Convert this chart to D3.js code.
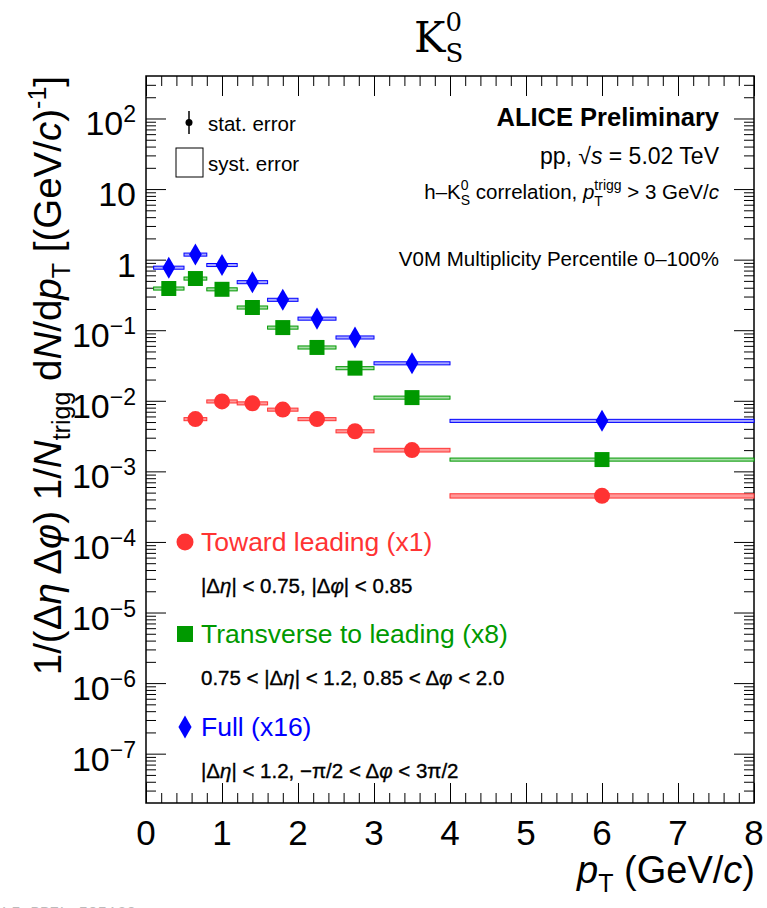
<!DOCTYPE html>
<html>
<head>
<meta charset="utf-8">
<script src="https://cdn.jsdelivr.net/npm/d3@7/dist/d3.min.js"></script>
<style>
body { margin: 0; background: #fff; }
text { font-family: "Liberation Sans", Arial, Helvetica, sans-serif; fill: #000; }
</style>
</head>
<body>
<div id="chart"></div>
<script>
// Width and height
var width  = 767;
var height = 908;

// plot frame
var frameL = 146,
    frameR = 754,
    frameT = 76,
    frameB = 803;

// pT bins (GeV/c)
var binLo    = [0.1, 0.5, 0.8, 1.2, 1.6, 2.0, 2.5, 3.0, 4.0];
var binHi    = [0.5, 0.8, 1.2, 1.6, 2.0, 2.5, 3.0, 4.0, 8.0];
var ptCenter = [0.3, 0.65, 1.0, 1.4, 1.8, 2.25, 2.75, 3.5, 6.0];

// yields, already scaled (x1, x8, x16)
var towardVals = [null, 0.0055, 0.0098, 0.0092, 0.0075, 0.0055, 0.0037, 0.0020, 0.00045];
var transVals  = [0.39, 0.54, 0.38, 0.21, 0.109, 0.057, 0.029, 0.0111, 0.00147];
var fullVals   = [0.77, 1.18, 0.84, 0.48, 0.27, 0.146, 0.079, 0.034, 0.0052];

// relative systematic errors
var towardSys = [null, 0.05, 0.05, 0.05, 0.05, 0.05, 0.05, 0.06, 0.07];
var transSys  = [0.05, 0.05, 0.05, 0.05, 0.05, 0.05, 0.05, 0.05, 0.05];
var fullSys   = [0.05, 0.05, 0.05, 0.05, 0.05, 0.05, 0.05, 0.05, 0.05];

var seriesNames = ["Toward leading (x1)", "Transverse to leading (x8)", "Full (x16)"];

// ticks
var xTickValues = [0, 1, 2, 3, 4, 5, 6, 7, 8];
var yTickValues = [1e2, 1e1, 1, 1e-1, 1e-2, 1e-3, 1e-4, 1e-5, 1e-6, 1e-7];
var yTickText   = [["10", "2"], ["10", ""], ["1", ""], ["10", "\u22121"], ["10", "\u22122"],
                   ["10", "\u22123"], ["10", "\u22124"], ["10", "\u22125"], ["10", "\u22126"], ["10", "\u22127"]];

var colors     = ["#ff3333", "#009900", "#0000ff"];
var fillColors = ["#ff9999", "#a8dca8", "#a8a8ff"];
var symbols    = [d3.symbolCircle, d3.symbolSquare, d3.symbolDiamond];
var symSizes   = [201, 225, 140];

// scales
var x = d3.scaleLinear().domain([0, 8]).range([frameL, frameR]);
var y = d3.scaleLog().domain([2e-8, 400]).range([frameB, frameT]);

var svg = d3.select("#chart")
    .append("svg")
    .attr("width", width)
    .attr("height", height);

// helper for text with sub/superscripts
function rich(sel, parts) {
    parts.forEach(function(p) {
        if (typeof p === "string") p = {t: p};
        var ts = sel.append("tspan").text(p.t);
        if (p.i) ts.style("font-style", "italic");
        if (p.s) ts.style("font-size", p.s + "px");
        if (p.dy) ts.attr("dy", p.dy);
        if (p.dx) ts.attr("dx", p.dx);
    });
    return sel;
}

// minor ticks
var xMinor = d3.range(0, 8.001, 0.2).filter(function(v){ return Math.abs(v - Math.round(v)) > 0.01; });
var yMinor = [];
for (var k = -8; k <= 2; k++) {
    for (var m = 2; m <= 9; m++) {
        var v = m * Math.pow(10, k);
        if (v > 2e-8 && v < 400) yMinor.push(v);
    }
}

function styleAxis(g) {
    g.select(".domain").remove();
    g.selectAll("line").attr("stroke", "#000").attr("stroke-width", 1);
    g.selectAll("text").remove();
}

// axes: majors + minors, ticks pointing inward on all four sides
svg.append("g").attr("transform", "translate(" + frameL + ",0)")
    .call(d3.axisLeft(y).tickValues(yTickValues).tickSize(-20)).call(styleAxis);
svg.append("g").attr("transform", "translate(" + frameL + ",0)")
    .call(d3.axisLeft(y).tickValues(yMinor).tickSize(-10)).call(styleAxis);
svg.append("g").attr("transform", "translate(" + frameR + ",0)")
    .call(d3.axisRight(y).tickValues(yTickValues).tickSize(-20)).call(styleAxis);
svg.append("g").attr("transform", "translate(" + frameR + ",0)")
    .call(d3.axisRight(y).tickValues(yMinor).tickSize(-10)).call(styleAxis);
svg.append("g").attr("transform", "translate(0," + frameB + ")")
    .call(d3.axisBottom(x).tickValues(xTickValues).tickSize(-20)).call(styleAxis);
svg.append("g").attr("transform", "translate(0," + frameB + ")")
    .call(d3.axisBottom(x).tickValues(xMinor).tickSize(-10)).call(styleAxis);
svg.append("g").attr("transform", "translate(0," + frameT + ")")
    .call(d3.axisTop(x).tickValues(xTickValues).tickSize(-20)).call(styleAxis);
svg.append("g").attr("transform", "translate(0," + frameT + ")")
    .call(d3.axisTop(x).tickValues(xMinor).tickSize(-10)).call(styleAxis);

// frame
svg.append("rect")
    .attr("x", frameL)
    .attr("y", frameT)
    .attr("width", frameR - frameL)
    .attr("height", frameB - frameT)
    .style("fill", "none")
    .style("stroke", "#000")
    .style("stroke-width", 1.5);

// x tick labels
svg.selectAll(".xlab")
    .data(xTickValues)
    .enter()
    .append("text")
    .attr("class", "xlab")
    .attr("x", function(d){ return x(d); })
    .attr("y", 845)
    .attr("text-anchor", "middle")
    .style("font-size", "35px")
    .text(function(d){ return d; });

// y tick labels
svg.selectAll(".ylab")
    .data(yTickValues)
    .enter()
    .append("text")
    .attr("class", "ylab")
    .attr("x", 136)
    .attr("y", function(d){ return y(d) + 17; })
    .attr("text-anchor", "end")
    .style("font-size", "34px")
    .each(function(d, i) {
        var t = yTickText[i];
        var sel = d3.select(this);
        sel.append("tspan").text(t[0]);
        if (t[1] !== "") {
            sel.append("tspan")
                .attr("dy", -13)
                .style("font-size", "23px")
                .text(t[1]);
        }
    });

// axis titles
rich(svg.append("text")
        .attr("x", frameR + 1)
        .attr("y", 883)
        .attr("text-anchor", "end")
        .style("font-size", "38px"),
    [{t: "p", i: true}, {t: "T", s: 25, dy: 9}, {t: " (GeV/", dy: -9}, {t: "c", i: true}, ")"]);

rich(svg.append("text")
        .attr("transform", "translate(61," + frameT + ") rotate(-90)")
        .attr("text-anchor", "end")
        .style("font-size", "38.5px"),
    ["1/(\u0394", {t: "\u03b7", i: true}, " \u0394", {t: "\u03c6", i: true}, ") 1/",
     {t: "N", i: true}, {t: "trigg", s: 25, dy: 9}, {t: " d", dy: -9}, {t: "N", i: true}, "/d",
     {t: "p", i: true}, {t: "T", s: 25, dy: 9}, {t: " [(GeV/", dy: -9}, {t: "c", i: true}, ")",
     {t: "-1", s: 25, dy: -15}, {t: "]", dy: 15}]);

// title K0S
rich(svg.append("text")
        .attr("x", 414)
        .attr("y", 52)
        .style("font-family", "'DejaVu Serif', serif")
        .style("font-size", "42px"),
    ["K", {t: "0", s: 26, dy: -21}, {t: "S", s: 26, dx: -16.5, dy: 31}]);

// systematic boxes + markers
var allVals = [towardVals, transVals, fullVals];
var allSys  = [towardSys, transSys, fullSys];

allVals.forEach(function(vals, s) {
    var pts = vals.map(function(v, i) {
        return {v: v, sys: allSys[s][i], lo: binLo[i], hi: binHi[i], pt: ptCenter[i]};
    }).filter(function(d){ return d.v !== null; });

    var g = svg.append("g").attr("class", "series" + s);

    g.selectAll("rect")
        .data(pts)
        .enter()
        .append("rect")
        .attr("x", function(d){ return x(d.lo); })
        .attr("width", function(d){ return x(d.hi) - x(d.lo); })
        .attr("y", function(d){ return y(d.v * (1 + d.sys)); })
        .attr("height", function(d){ return y(d.v * (1 - d.sys)) - y(d.v * (1 + d.sys)); })
        .style("fill", fillColors[s])
        .style("stroke", colors[s])
        .style("stroke-width", 1);

    g.selectAll("path")
        .data(pts)
        .enter()
        .append("path")
        .attr("transform", function(d){ return "translate(" + x(d.pt) + "," + y(d.v) + ")"; })
        .attr("d", d3.symbol().type(symbols[s]).size(symSizes[s]))
        .style("fill", colors[s]);
});

// top-left legend (stat / syst)
svg.append("line")
    .attr("x1", 189).attr("x2", 189)
    .attr("y1", 111).attr("y2", 134)
    .style("stroke", "#000").style("stroke-width", 1.5);
svg.append("circle")
    .attr("cx", 189).attr("cy", 122.5).attr("r", 3.5)
    .style("fill", "#000");
svg.append("text")
    .attr("x", 208).attr("y", 131)
    .style("font-size", "20.5px")
    .text("stat. error");
svg.append("rect")
    .attr("x", 176).attr("y", 148)
    .attr("width", 27).attr("height", 29)
    .style("fill", "none").style("stroke", "#000").style("stroke-width", 1);
svg.append("text")
    .attr("x", 208).attr("y", 171)
    .style("font-size", "20.5px")
    .text("syst. error");

// top-right labels
svg.append("text")
    .attr("x", 719).attr("y", 126)
    .attr("text-anchor", "end")
    .style("font-size", "25.5px")
    .style("font-weight", "bold")
    .text("ALICE Preliminary");

rich(svg.append("text")
        .attr("x", 719).attr("y", 164)
        .attr("text-anchor", "end")
        .style("font-size", "23px"),
    ["pp, \u221a", {t: "s", i: true}, " = 5.02 TeV"]);

rich(svg.append("text")
        .attr("x", 719).attr("y", 199)
        .attr("text-anchor", "end")
        .style("font-size", "20.5px"),
    ["h\u2013K", {t: "0", s: 14, dy: -9}, {t: "S", s: 14, dx: -7.8, dy: 15},
     {t: " correlation, ", dy: -6}, {t: "p", i: true}, {t: "T", s: 14, dy: 7},
     {t: "trigg", s: 14, dx: -8.6, dy: -16}, {t: " > 3 GeV/", dy: 9}, {t: "c", i: true}]);

svg.append("text")
    .attr("x", 719).attr("y", 266)
    .attr("text-anchor", "end")
    .style("font-size", "20.5px")
    .text("V0M Multiplicity Percentile 0\u2013100%");

// series legend
var legendY   = [542, 634, 727];
var legendSym = [227, 256, 150];
var cutParts = [
    ["|\u0394", {t: "\u03b7", i: true}, "| < 0.75, |\u0394", {t: "\u03c6", i: true}, "| < 0.85"],
    ["0.75 < |\u0394", {t: "\u03b7", i: true}, "| < 1.2, 0.85 < \u0394", {t: "\u03c6", i: true}, " < 2.0"],
    ["|\u0394", {t: "\u03b7", i: true}, "| < 1.2, \u2212\u03c0/2 < \u0394", {t: "\u03c6", i: true}, " < 3\u03c0/2"]
];

seriesNames.forEach(function(name, s) {
    svg.append("path")
        .attr("transform", "translate(185," + legendY[s] + ")")
        .attr("d", d3.symbol().type(symbols[s]).size(legendSym[s]))
        .style("fill", colors[s]);
    svg.append("text")
        .attr("x", 201)
        .attr("y", legendY[s] + 9)
        .style("font-size", "26.5px")
        .style("fill", colors[s])
        .text(name);
    rich(svg.append("text")
            .attr("x", 201)
            .attr("y", legendY[s] + 51)
            .style("font-size", "20.5px")
            .style("stroke", "#000")
            .style("stroke-width", 0.35),
        cutParts[s]);
});

// preliminary figure id, cut at bottom edge
svg.append("text")
    .attr("x", -8).attr("y", 918)
    .style("font-family", "'Liberation Mono', monospace")
    .style("font-size", "16px")
    .style("fill", "#bbb")
    .text("ALI-PREL-505169");
</script>
</body>
</html>
